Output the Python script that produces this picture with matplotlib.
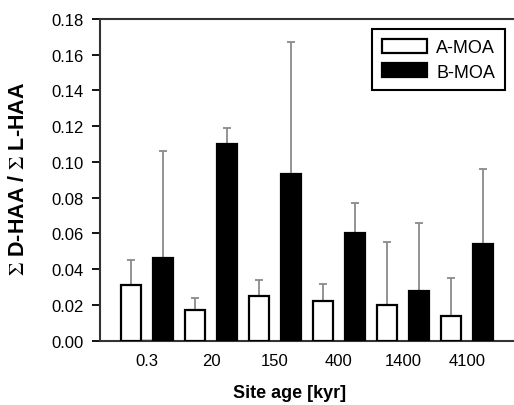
import matplotlib
matplotlib.use("Agg")
import matplotlib.pyplot as plt
import numpy as np

SITE_AGES = ["0.3", "20", "150", "400", "1400", "4100"]

A_MOA = [0.031, 0.017, 0.025, 0.022, 0.020, 0.014]
A_MOA_ERR = [0.014, 0.007, 0.009, 0.010, 0.035, 0.021]

B_MOA = [0.046, 0.110, 0.093, 0.060, 0.028, 0.054]
B_MOA_ERR = [0.060, 0.009, 0.074, 0.017, 0.038, 0.042]

plt.rcParams.update(
    {
        "font.family": ["Liberation Sans", "DejaVu Sans"],
        "mathtext.fontset": "stix",
    }
)

fig = plt.figure(figsize=(5.14, 4.06), dpi=100)
ax = fig.add_axes([0.1946, 0.1584, 0.8054, 0.7923])

x = np.arange(len(SITE_AGES))
width = 0.3125
offset = 0.25
err_color = "#8a8a8a"

for xs, vals, errs, face in [
    (x - offset, A_MOA, A_MOA_ERR, "white"),
    (x + offset, B_MOA, B_MOA_ERR, "black"),
]:
    ax.bar(xs, vals, width=width, color=face, edgecolor="black",
           linewidth=1.6, zorder=3)
    ax.errorbar(xs, vals, yerr=[np.zeros(len(errs)), errs], fmt="none",
                ecolor=err_color, elinewidth=1.3, capsize=3, capthick=1.3,
                zorder=2)

# legend proxies
ax.bar([0], [0], color="white", edgecolor="black", linewidth=1.6, label="A-MOA")
ax.bar([0], [0], color="black", edgecolor="black", linewidth=1.6, label="B-MOA")

ax.set_xlim(-0.74, 5.74)
ax.set_ylim(0, 0.18)
ax.set_yticks(np.arange(0, 0.181, 0.02))
ax.set_yticklabels([f"{v:.2f}" for v in np.arange(0, 0.181, 0.02)])
ax.set_xticks(x)
ax.set_xticklabels(SITE_AGES)

ax.tick_params(axis="x", length=0, pad=9, labelsize=12)
ax.tick_params(axis="y", direction="out", length=6, width=1.3, pad=6,
               labelsize=12)

for side in ["left", "bottom", "top"]:
    ax.spines[side].set_linewidth(1.5)
    ax.spines[side].set_color("#333333")
ax.spines["right"].set_visible(False)

ax.set_xlabel("Site age [kyr]", fontsize=13, fontweight="bold")
ax.xaxis.set_label_coords(0.457, -0.135)
ax.set_ylabel(r"$\Sigma$ D-HAA / $\Sigma$ L-HAA", fontsize=15.5,
              fontweight="bold")
ax.yaxis.set_label_coords(-0.172, 0.505)

leg = ax.legend(loc="upper right", bbox_to_anchor=(0.978, 0.969),
                borderaxespad=0, fontsize=13, fancybox=False, framealpha=1,
                edgecolor="black", handlelength=2.5, handleheight=0.8,
                handletextpad=0.5, labelspacing=0.4, borderpad=0.55)
leg.get_frame().set_linewidth(1.5)

fig.savefig("out.png", dpi=100)
